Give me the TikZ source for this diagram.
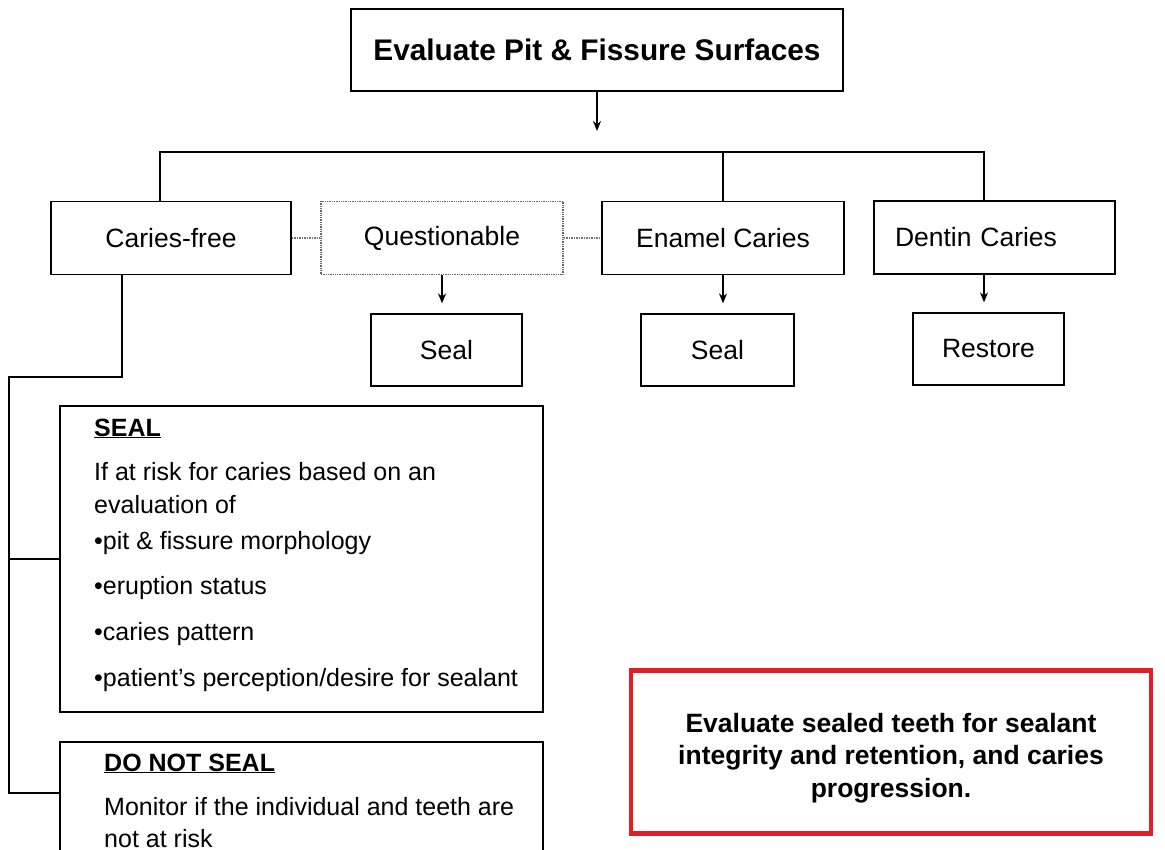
\documentclass[tikz,border=0pt]{standalone}
\usepackage{fontspec}
\setmainfont{Liberation Sans}
\usetikzlibrary{arrows.meta}

\definecolor{alertred}{RGB}{226,30,38}

\tikzset{
  box/.style={draw, rectangle, line width=1.3pt, inner sep=0pt, font=\fontsize{26.5}{30}\selectfont},
  qbox/.style={box, draw=black!60, densely dotted, line width=1.7pt},
  txt/.style={anchor=base west, inner sep=0pt, font=\fontsize{25}{30}\selectfont},
  hd/.style={txt, font=\fontsize{25}{30}\selectfont\bfseries},
  arr/.style={-{Stealth[length=10pt,width=8pt]}, line width=1.1pt},
  link/.style={line width=1.2pt},
  dlink/.style={line width=1.5pt, black!55, densely dotted},
}

\begin{document}
\begin{tikzpicture}[x=1pt,y=-1pt]
    \useasboundingbox (0,0) rectangle (1165,850);
    \clip (0,0) rectangle (1165,850);

    % top
    \node[box, minimum width=492, minimum height=82, font=\fontsize{29.8}{34}\selectfont\bfseries] (top) at (597,50) {Evaluate Pit \& Fissure Surfaces};

    % findings
    \node[box, minimum width=240, minimum height=73] (cf) at (171,238) {Caries-free};
    \node[qbox, minimum width=242, minimum height=73] (qu) at (442,238) {Questionable};
    \node[box, minimum width=242, minimum height=73] (en) at (723,238) {Enamel Caries};
    \node[box, minimum width=241, minimum height=73, text width=199, inner xsep=21, align=left] (de) at (994.5,237.5) {Dentin Caries};

    % treatments
    \node[box, minimum width=151, minimum height=72] (seal1) at (446.5,350) {Seal};
    \node[box, minimum width=153, minimum height=72] (seal2) at (717.5,350) {Seal};
    \node[box, minimum width=151, minimum height=72] (rest) at (988.5,349) {Restore};

    % caries-free boxes
    \node[box, minimum width=483, minimum height=306] (sealbox) at (301.5,559) {};
    \node[box, minimum width=483, minimum height=140] (dns) at (301.5,812) {};

    \node[hd] (sealhd) at (94,436) {\underline{SEAL}};
    \node[txt] (s1) at (94,480) {If at risk for caries based on an};
    \node[txt] (s2) at (94,513) {evaluation of};
    \node[txt] (s3) at (94,549) {•pit \& fissure morphology};
    \node[txt] (s4) at (94,594) {•eruption status};
    \node[txt] (s5) at (94,640) {•caries pattern};
    \node[txt] (s6) at (94,686) {•patient's perception/desire for sealant};

    \node[hd] (dnshd) at (104,771) {\underline{DO NOT SEAL}};
    \node[txt] (d1) at (104,815) {Monitor if the individual and teeth are};
    \node[txt] (d2) at (104,847) {not at risk};

    % red note
    \node[draw=alertred, line width=4.5pt, minimum width=520, minimum height=163] (eval) at (891,752) {};
    \node[align=center, inner sep=0pt, font=\fontsize{26.5}{32.5}\selectfont\bfseries] (evaltxt)
          at ([yshift=-6pt]eval.center)
          {Evaluate sealed teeth for sealant\\integrity and retention, and caries\\progression.};

    % connectors
    \coordinate (busL) at (160,152);
    \coordinate (busR) at (984,152);
    \draw[arr, shorten >=21pt] (top.south) -- (top.south |- busL);
    \draw[link] (cf.north -| busL) -- (busL) -- (busR) -- (busR |- de.north);
    \draw[link] (en.north |- busL) -- (en.north);
    \draw[dlink] (cf.east) -- (qu.west);
    \draw[dlink] (qu.east) -- (en.west);

    \draw[arr, shorten >=10pt] (qu.south) -- (qu.south |- seal1.north);
    \draw[arr, shorten >=10pt] (en.south) -- (en.south |- seal2.north);
    \draw[arr, shorten >=10pt] (busR |- de.south) -- (busR |- rest.north);

    \coordinate (elbow) at (122,377);
    \coordinate (spine) at (9,377);
    \coordinate (spineEnd) at (9,793);
    \draw[link] (cf.south -| elbow) -- (elbow) -- (spine) -- (spineEnd) -- (spineEnd -| dns.west);
    \draw[link] (spine |- sealbox.west) -- (sealbox.west);
\end{tikzpicture}
\end{document}
